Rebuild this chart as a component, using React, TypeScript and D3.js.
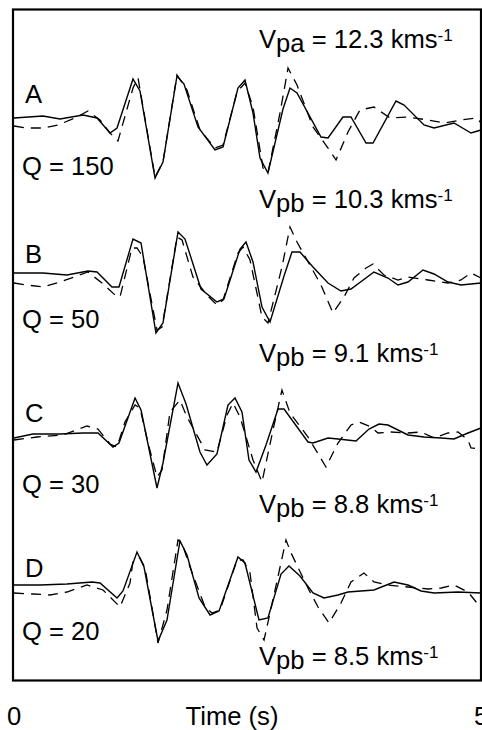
import React from "react";
import * as d3 from "d3";

// ---- data: [time (s), amplitude] ----
const panelNames = ["A", "B", "C", "D"];
const qValues = [150, 50, 30, 20];
const panelBaselines = [56.2, 40.7, 24.5, 9.5];
const velocityValues = ["12.3", "10.3", "9.1", "8.8", "8.5"];
const velocitySubs = ["pa", "pb", "pb", "pb", "pb"];
const xTickValues = [0, 5];

const solidA: [number, number][] = [
  [0, 0], [0.31, 0.2], [0.493, -0.1], [0.739, 0.3], [0.889, 0], [1.028, -1.5], [1.103, -1.0],
  [1.274, 3.9], [1.349, 2.7], [1.51, -6.0], [1.595, -4.4], [1.745, 4.2], [1.82, 3.4],
  [1.97, -0.9], [2.152, -3.2], [2.238, -2.9], [2.398, 3.0], [2.473, 3.8], [2.559, 0.5],
  [2.634, -4.0], [2.719, -5.5], [2.88, 0.9], [2.955, 3.0], [3.03, 2.5], [3.287, -1.9],
  [3.362, -2.0], [3.522, 0.1], [3.608, 0.1], [3.769, -2.5], [3.844, -2.5], [4.09, 1.7],
  [4.176, 1.3], [4.39, -0.7], [4.497, -1.0], [4.711, -0.5], [4.893, -1.5], [5.0, -1.2],
];
const dashedA: [number, number][] = [
  [0, -0.8], [0.139, -1.0], [0.31, -1.0], [0.471, -0.7], [0.653, 0], [0.792, 0.7], [0.921, -0.2],
  [1.028, -1.5], [1.113, -2.3], [1.274, 3.0], [1.328, 4.0], [1.51, -5.9], [1.595, -4.4],
  [1.745, 4.3], [1.852, 2.8], [1.991, -1.2], [2.152, -3.0], [2.238, -2.7], [2.388, 2.6],
  [2.473, 3.5], [2.559, 1.1], [2.666, -5.0], [2.719, -5.5], [2.848, 0.5], [2.934, 5.0],
  [3.03, 3.3], [3.201, -0.9], [3.362, -3.0], [3.448, -4.2], [3.576, -1.4], [3.704, 0.8],
  [3.854, 1.1], [4.026, 0], [4.218, 0.1], [4.433, -0.2], [4.604, -0.5], [4.786, -0.2],
  [4.957, 0], [5.0, -0.5],
];
const solidB: [number, number][] = [
  [0, 0], [0.31, 0], [0.567, -0.2], [0.792, 0.2], [0.889, 0.1], [1.049, -1.4], [1.124, -1.4],
  [1.274, 3.4], [1.36, 3.0], [1.52, -6.0], [1.595, -5.0], [1.756, 4.1], [1.831, 3.4],
  [2.002, -1.6], [2.173, -2.9], [2.248, -2.6], [2.42, 2.4], [2.484, 3.1], [2.559, 1.1],
  [2.655, -3.4], [2.741, -4.9], [2.891, -0.3], [2.976, 2.1], [3.062, 2.1], [3.201, 0.6],
  [3.362, -1.0], [3.501, -1.8], [3.608, -1.6], [3.854, 0.1], [4.004, -0.5], [4.111, -1.2],
  [4.218, -0.9], [4.379, 0.3], [4.497, -0.1], [4.647, -0.9], [4.786, -1.2], [5.0, -1.0],
];
const dashedB: [number, number][] = [
  [0, -1.0], [0.139, -1.2], [0.31, -1.4], [0.493, -0.9], [0.792, 0.1], [0.942, -1.0],
  [1.081, -2.2], [1.135, -2.4], [1.263, 2.5], [1.317, 2.5], [1.381, 1.6], [1.531, -5.7],
  [1.585, -5.4], [1.745, 3.6], [1.799, 3.3], [1.916, -0.4], [2.066, -2.2], [2.173, -3.2],
  [2.238, -2.7], [2.398, 2.0], [2.452, 2.6], [2.527, 1.3], [2.655, -4.4], [2.719, -5.0],
  [2.869, 0.6], [2.955, 4.6], [3.03, 3.1], [3.287, -1.2], [3.415, -4.0], [3.533, -2.4],
  [3.64, -0.5], [3.769, 0.5], [3.844, 0.9], [3.961, -0.2], [4.111, -0.7], [4.218, -0.4],
  [4.433, -0.7], [4.647, -1.0], [4.786, -0.7], [4.893, 0], [5.0, -0.5],
];
const solidC: [number, number][] = [
  [0, -0.3], [0.203, 0.1], [0.493, 0.1], [0.739, 0.2], [0.899, 0.2], [1.06, -1.2], [1.124, -0.8],
  [1.296, 3.7], [1.36, 2.5], [1.531, -5.3], [1.595, -2.8], [1.756, 5.2], [1.842, 3.1],
  [1.991, -1.7], [2.066, -3.0], [2.173, -1.9], [2.291, 3.0], [2.366, 3.7], [2.441, 2.3],
  [2.516, -2.5], [2.591, -3.7], [2.698, -1.0], [2.827, 2.6], [2.891, 2.6], [3.148, -0.7],
  [3.201, -0.8], [3.362, -0.3], [3.469, -0.4], [3.662, -0.6], [3.801, 0.6], [3.908, 1.1],
  [4.004, 1.0], [4.218, 0], [4.39, -0.2], [4.572, -0.3], [4.711, -0.4], [4.861, 0.2], [5.0, 0.7],
];
const dashedC: [number, number][] = [
  [0, -0.5], [0.246, -0.2], [0.525, 0], [0.782, 0.9], [0.899, 0.6], [1.028, -0.9], [1.103, -1.2],
  [1.188, 1.3], [1.296, 3.0], [1.349, 2.7], [1.435, -0.8], [1.531, -4.2], [1.585, -3.5],
  [1.67, 2.3], [1.777, 3.5], [1.852, 1.8], [2.045, -1.5], [2.173, -1.7], [2.281, 2.0],
  [2.345, 3.2], [2.42, 1.8], [2.559, -2.5], [2.655, -4.7], [2.773, 0.5], [2.869, 4.5],
  [2.955, 2.2], [3.148, -0.2], [3.34, -3.2], [3.469, -0.8], [3.608, 1.0], [3.694, 1.3],
  [3.822, 0.8], [3.897, 0.2], [4.036, 0.3], [4.218, 0.2], [4.358, 0.3], [4.497, -0.3],
  [4.647, 0.2], [4.754, 0.3], [4.861, -0.5], [4.893, -1.3], [5.0, -1.4],
];
const solidD: [number, number][] = [
  [0, 0], [0.278, 0], [0.567, 0.1], [0.835, 0.3], [0.921, 0.2], [1.103, -1.3], [1.167, -0.6],
  [1.317, 3.3], [1.392, 1.8], [1.542, -5.6], [1.638, -3.5], [1.777, 4.4], [1.852, 3.0],
  [1.981, -1.3], [2.099, -3.0], [2.195, -2.6], [2.398, 2.8], [2.473, 2.2], [2.623, -3.5],
  [2.719, -3.3], [2.859, 1.1], [2.944, 1.9], [3.062, 0.9], [3.201, -0.8], [3.319, -1.3],
  [3.469, -1.0], [3.576, -0.7], [3.854, -0.5], [4.069, 0.3], [4.218, 0], [4.358, -0.6],
  [4.497, -0.8], [4.754, -0.7], [5.0, -0.8],
];
const dashedD: [number, number][] = [
  [0, -0.8], [0.203, -0.9], [0.385, -1.0], [0.567, -0.7], [0.782, 0], [0.953, -0.5],
  [1.135, -2.2], [1.242, 0.2], [1.274, 2.4], [1.349, 2.7], [1.403, 1.7], [1.542, -5.8],
  [1.638, -2.5], [1.756, 4.5], [1.799, 4.2], [1.884, 1.8], [2.045, -2.2], [2.12, -2.8],
  [2.206, -2.5], [2.388, 2.5], [2.452, 2.5], [2.527, 1.2], [2.602, -4.3], [2.677, -5.5],
  [2.741, -2.8], [2.912, 4.5], [2.966, 3.2], [3.158, -0.5], [3.255, -2.2], [3.373, -3.8],
  [3.501, -1.8], [3.608, 0.3], [3.747, 1.2], [3.854, 0.3], [4.004, 0], [4.218, -0.2],
  [4.433, -0.4], [4.572, -0.3], [4.711, 0], [4.861, -0.7], [4.957, -1.8], [5.0, -2.0],
];

const solidTraces = [solidA, solidB, solidC, solidD];
const dashedTraces = [dashedA, dashedB, dashedC, dashedD];

// ---- layout ----
const W = 482;
const H = 730;
const frame = { left: 13, right: 481, top: 9.5, bottom: 680.5 };
const FONT = "'Liberation Sans', Arial, Helvetica, sans-serif";
const FS = 25.6;
const nameY = [103, 263, 422, 577];
const qY = [175, 328, 493, 640];
const velY = [48, 208, 362, 513, 665];

export default function App() {
  const x = d3.scaleLinear().domain([0, 5]).range([14, 481]);
  const y = d3.scaleLinear().domain([0, 67.1]).range([680, 9]);

  const makeLine = (base: number) =>
    d3
      .line<[number, number]>()
      .x((d) => x(d[0]))
      .y((d) => y(base + d[1]))
      .curve(d3.curveLinear);

  return (
    <svg
      width={W}
      height={H}
      style={{ position: "absolute", left: 0, top: 0, background: "#fff" }}
      fontFamily={FONT}
    >
      <rect x={0} y={0} width={W} height={H} fill="#fff" />
      {panelNames.map((name, i) => {
        const line = makeLine(panelBaselines[i]);
        return (
          <g key={name}>
            <path
              d={line(dashedTraces[i]) || ""}
              fill="none"
              stroke="#000"
              strokeWidth={1.3}
              strokeDasharray="10,7"
            />
            <path d={line(solidTraces[i]) || ""} fill="none" stroke="#000" strokeWidth={1.4} />
            <text x={25} y={nameY[i]} fontSize={FS} fill="#000">
              {name}
            </text>
            <text x={22} y={qY[i]} fontSize={FS} fill="#000">
              {`Q = ${qValues[i]}`}
            </text>
          </g>
        );
      })}
      {velocityValues.map((v, i) => (
        <text key={i} x={259} y={velY[i]} fontSize={FS} fill="#000">
          V
          <tspan dy={4}>{velocitySubs[i]}</tspan>
          <tspan dy={-4}>{` = ${v} kms`}</tspan>
          <tspan dy={-7} fontSize={17}>
            -1
          </tspan>
        </text>
      ))}
      <rect
        x={frame.left}
        y={frame.top}
        width={frame.right - frame.left}
        height={frame.bottom - frame.top}
        fill="none"
        stroke="#000"
        strokeWidth={2.2}
      />
      {xTickValues.map((t) => (
        <text key={t} x={x(t)} y={725} fontSize={FS} textAnchor="middle" fill="#000">
          {t}
        </text>
      ))}
      <text x={232} y={725} fontSize={FS} textAnchor="middle" fill="#000">
        Time (s)
      </text>
    </svg>
  );
}
